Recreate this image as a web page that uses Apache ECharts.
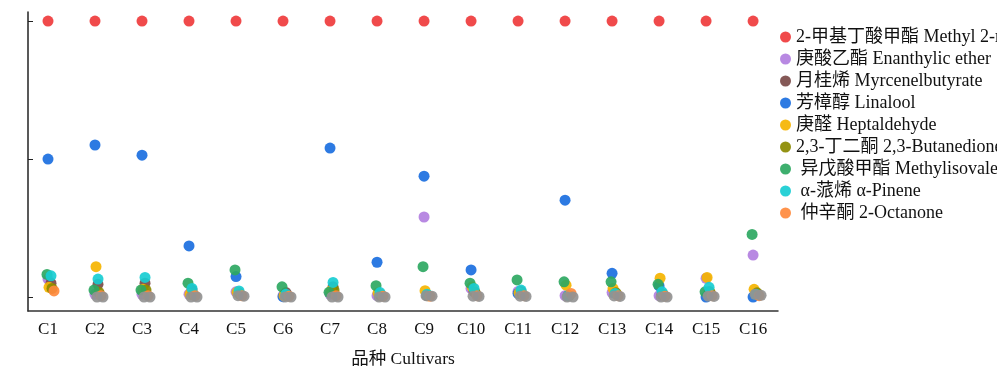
<!DOCTYPE html>
<html><head><meta charset="utf-8">
<script src="https://cdn.jsdelivr.net/npm/echarts@6/dist/echarts.min.js"></script>
<style>html,body{margin:0;padding:0;background:#fff}#c{width:997px;height:377px}</style>
</head><body><div id="c"></div>
<script>
const categories = ['C1','C2','C3','C4','C5','C6','C7','C8','C9','C10','C11','C12','C13','C14','C15','C16'];
const seriesNames = ['2-甲基丁酸甲酯 Methyl 2-methylbutyrate','庚酸乙酯 Enanthylic ether','月桂烯 Myrcenelbutyrate','芳樟醇 Linalool','庚醛 Heptaldehyde','2,3-丁二酮 2,3-Butanedione',' 异戊酸甲酯 Methylisovalerate',' α-蒎烯 α-Pinene',' 仲辛酮 2-Octanone'];
const methyl2mb   = [100,100,100,100,100,100,100,100,100,100,100,100,100,100,100,100];
const enanthylic  = [6.5,1,1,1,1.9,0.5,1,0.5,29,3.1,2,0.5,1.6,0.5,6.8,15.2];
const myrcene     = [5,4.6,5,2.5,1.5,1.6,3.7,1,0.5,2,2,0.5,1.5,1,2,1];
const linalool    = [50,55.1,51.4,18.5,7.4,0.1,54,12.6,43.8,9.8,1.3,35.1,8.6,4,0,0];
const heptanal    = [3.5,11,2.8,1,1.7,0.5,2.2,1.5,2.3,3.7,1.5,4.3,3.1,6.8,7.1,2.8];
const butanedione = [3.1,1.7,2.5,1,1,0.5,2.5,0.5,0.5,1.7,1,0.5,1.5,1,1.7,1.5];
const methylisoval= [8.2,2.5,2.5,5,9.8,3.7,1.7,4.1,11,5,6.2,5.5,5.5,4.6,1.9,22.7];
const pinene      = [7.7,6.5,7.1,3.1,2.2,1,5.3,1.6,1,3.1,2.5,0.5,1.3,1.9,3.5,1];
const octanone    = [2.2,0.5,0.5,0.5,0.5,0.3,0.5,0.3,0.3,0.5,0.5,1.3,0.5,0.3,0.5,0.5];
const otherA      = [null,0,0,0,0.5,0,0,0,0.5,0.3,0.3,0,0.4,0,0.3,1];
const otherB      = [null,0,0,0,0.3,0,0,0,0.3,0.2,0.2,0,0.2,0,0.2,0.6];
const yTicks = [0,50,100];

const colors = ['#ef3b3c','#b27fe0','#7b4b49','#1b6fe0','#f5b400','#8b8a00','#2ea862','#18cdd2','#ff8a3d','#939393','#939393'];
const offsets = [0,0,3,0,1,4,-1,3,6,2,8]; // px jitter per series
const allData = [methyl2mb,enanthylic,myrcene,linalool,heptanal,butanedione,methylisoval,pinene,octanone,otherA,otherB];
const names = seriesNames.concat(['其他1','其他2']);
const pxPerUnit = 47;

const series = allData.map((arr,si)=>({
  type:'scatter', name:names[si], symbolSize:11,
  itemStyle:{color:colors[si], opacity:0.92},
  emphasis:{disabled:true},
  data: arr.map((v,i)=> v==null ? null : [i + offsets[si]/pxPerUnit, v]).filter(d=>d)
}));

const serif = '"Liberation Serif","Noto Sans CJK SC",serif';
const chart = echarts.init(document.getElementById('c'));
chart.setOption({
  animation:false,
  grid:{left:28,right:219,top:12,bottom:66},
  legend:{
    data:seriesNames, orient:'vertical', left:775, top:23,
    icon:'circle', itemWidth:11, itemHeight:11, itemGap:4,
    textStyle:{fontFamily:serif, fontSize:18, color:'#111'}
  },
  xAxis:{
    type:'value', min:-0.4255, max:15.53,
    splitLine:{show:false},
    axisLine:{onZero:false, lineStyle:{color:'#333',width:1.5}},
    axisTick:{show:false},
    axisLabel:{customValues:categories.map((c,i)=>i), formatter:v=>categories[Math.round(v)],
      fontFamily:serif, fontSize:17, color:'#111', margin:10},
    name:'品种 Cultivars', nameLocation:'middle', nameGap:40,
    nameTextStyle:{fontFamily:serif, fontSize:17.5, color:'#111'}
  },
  yAxis:{
    type:'value', min:-5.07, max:103.3,
    splitLine:{show:false},
    axisLine:{show:true, onZero:false, lineStyle:{color:'#222',width:1.5}},
    axisTick:{show:true, inside:true, length:5, customValues:yTicks, lineStyle:{color:'#222'}},
    axisLabel:{show:false}
  },
  series
});
</script></body></html>
